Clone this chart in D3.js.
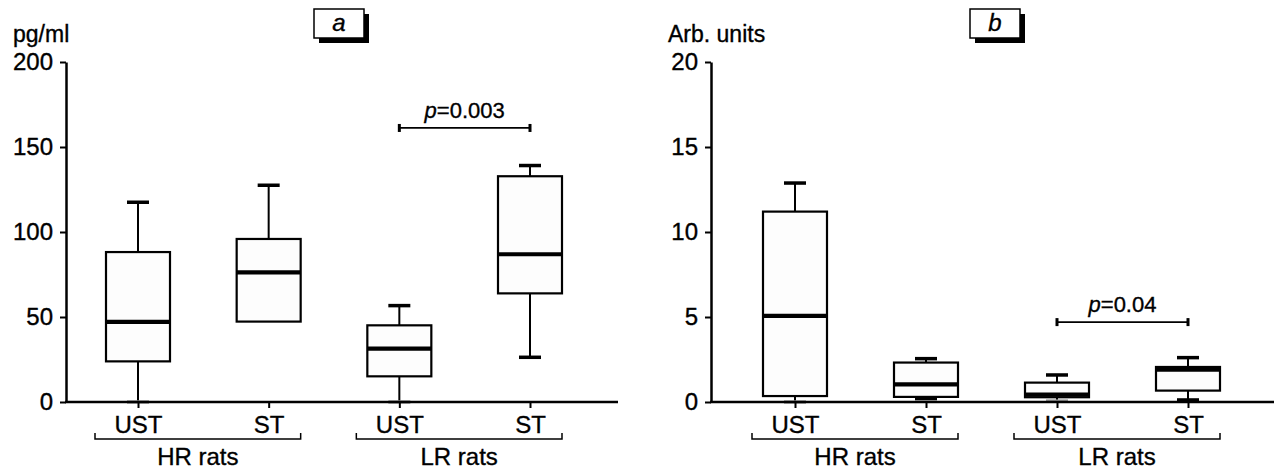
<!DOCTYPE html>
<html>
<head>
<meta charset="utf-8">
<title>Box plots a, b</title>
<script src="https://d3js.org/d3.v7.min.js"></script>
<style>
	body { margin: 0; background: #fff; }
	text { font-family: "Liberation Sans", Arial, Helvetica, sans-serif; fill: #000; stroke: #000; stroke-width: 0.35px; }
</style>
</head>
<body>
<svg width="1274" height="469"></svg>
<script>
// categories: group + condition
var groups = ["HR rats", "LR rats"];
var conditions = ["UST", "ST"];
var categories = ["HR-UST", "HR-ST", "LR-UST", "LR-ST"];

// panel a, pg/ml
var cytLow    = [0, 47.3, 0, 26.3];
var cytQ1     = [23.9, 47.3, 15.1, 63.9];
var cytMedian = [47.1, 76.3, 31.4, 86.9];
var cytQ3     = [88.2, 95.9, 45.1, 132.8];
var cytHigh   = [117.5, 127.5, 56.7, 139.1];
var cytTicks  = [0, 50, 100, 150, 200];

// panel b, arb. units
var arbLow    = [0, 0.2, 0.05, 0.12];
var arbQ1     = [0.35, 0.3, 0.28, 0.67];
var arbMedian = [5.07, 1.04, 0.43, 1.9];
var arbQ3     = [11.2, 2.32, 1.14, 2.06];
var arbHigh   = [12.88, 2.55, 1.59, 2.61];
var arbTicks  = [0, 5, 10, 15, 20];

// significance brackets: [from, to, height, p]
var cytSig = ["LR-UST", "LR-ST", 161.2, "0.003"];
var arbSig = ["LR-UST", "LR-ST", 4.7, "0.04"];

var svg = d3.select("svg");

function drawPanel(p) {
	var g = svg.append("g");
	var x = d3.scalePoint().domain(categories).range(p.xRange);
	var y = d3.scaleLinear().domain([0, p.ticks[p.ticks.length - 1]]).range([402, 62]);

	var rows = categories.map(function(c, i) {
		return {key: c, low: p.low[i], q1: p.q1[i], med: p.med[i], q3: p.q3[i], high: p.high[i]};
	});

	// whiskers
	g.selectAll(".wh").data(rows).enter().append("line")
		.attr("x1", function(d) { return x(d.key); })
		.attr("x2", function(d) { return x(d.key); })
		.attr("y1", function(d) { return y(d.high); })
		.attr("y2", function(d) { return y(d.low); })
		.attr("stroke", "#000").attr("stroke-width", 2);
	var caps = [];
	rows.forEach(function(d) {
		caps.push({key: d.key, v: d.high});
		if (d.low < d.q1) caps.push({key: d.key, v: d.low, lowcap: true});
	});
	g.selectAll(".cap").data(caps).enter().append("line")
		.attr("x1", function(d) { return x(d.key) - 11; })
		.attr("x2", function(d) { return x(d.key) + 11; })
		.attr("y1", function(d) { return y(d.v); })
		.attr("y2", function(d) { return y(d.v); })
		.attr("stroke", function(d) { return d.lowcap && d.v <= p.ticks[1] * 0.02 ? "#999" : "#000"; })
		.attr("stroke-width", 3.5);

	// boxes
	g.selectAll(".box").data(rows).enter().append("rect")
		.attr("x", function(d) { return x(d.key) - 32; })
		.attr("width", 64)
		.attr("y", function(d) { return y(d.q3); })
		.attr("height", function(d) { return y(d.q1) - y(d.q3); })
		.attr("fill", "#fdfdfd").attr("stroke", "#000").attr("stroke-width", 2.2);
	g.selectAll(".med").data(rows).enter().append("line")
		.attr("x1", function(d) { return x(d.key) - 32; })
		.attr("x2", function(d) { return x(d.key) + 32; })
		.attr("y1", function(d) { return y(d.med); })
		.attr("y2", function(d) { return y(d.med); })
		.attr("stroke", "#000").attr("stroke-width", 4.2);

	// y axis
	var yAxis = d3.axisLeft(y).tickValues(p.ticks).tickSize(6).tickSizeOuter(0).tickPadding(7);
	var ya = g.append("g").attr("transform", "translate(" + p.axisX + ",0)").call(yAxis);
	ya.attr("font-size", 24).attr("font-family", null);
	ya.select(".domain").attr("stroke-width", 2.5);
	ya.selectAll(".tick line").attr("stroke-width", 2);

	// x axis
	g.append("line")
		.attr("x1", p.axisX - 1).attr("x2", p.axisEnd)
		.attr("y1", 402).attr("y2", 402)
		.attr("stroke", "#000").attr("stroke-width", 2.5);
	var xAxis = d3.axisBottom(x).tickSize(6).tickPadding(8)
		.tickFormat(function(d) { return d.split("-")[1]; });
	var xa = g.append("g").attr("transform", "translate(0,402)").call(xAxis);
	xa.attr("font-size", 24).attr("font-family", null);
	xa.select(".domain").remove();
	xa.selectAll(".tick line").attr("stroke-width", 2);

	// group brackets
	groups.forEach(function(gr, i) {
		var a = x(categories[i * 2]) - 43, b = x(categories[i * 2 + 1]) + 32;
		g.append("path")
			.attr("d", "M" + a + ",433V439H" + b + "V433")
			.attr("fill", "none").attr("stroke", "#000").attr("stroke-width", 1.5);
		g.append("text").attr("x", (a + b) / 2).attr("y", 465)
			.attr("text-anchor", "middle").attr("font-size", 24).text(gr);
	});

	// significance bracket
	var s = p.sig, sx1 = x(s[0]), sx2 = x(s[1]), sy = y(s[2]);
	g.append("line").attr("x1", sx1).attr("x2", sx2).attr("y1", sy).attr("y2", sy)
		.attr("stroke", "#000").attr("stroke-width", 1.8);
	[sx1, sx2].forEach(function(sx) {
		g.append("line").attr("x1", sx).attr("x2", sx).attr("y1", sy - 4).attr("y2", sy + 4)
			.attr("stroke", "#000").attr("stroke-width", 3);
	});
	var st = g.append("text").attr("x", (sx1 + sx2) / 2).attr("y", sy - 10)
		.attr("text-anchor", "middle").attr("font-size", 22);
	st.append("tspan").attr("font-style", "italic").text("p");
	st.append("tspan").text("=" + s[3]);

	// unit label
	g.append("text").attr("x", p.unitX).attr("y", 42).attr("font-size", 23).text(p.unit);

	// panel letter box with shadow
	g.append("rect").attr("x", p.boxX + 5).attr("y", 14).attr("width", 50).attr("height", 29).attr("fill", "#000");
	g.append("rect").attr("x", p.boxX).attr("y", 9).attr("width", 50).attr("height", 29)
		.attr("fill", "#fff").attr("stroke", "#000").attr("stroke-width", 1.5);
	g.append("text").attr("x", p.boxX + 25).attr("y", 31).attr("text-anchor", "middle")
		.attr("font-size", 24).attr("font-style", "italic").text(p.letter);
}

drawPanel({
	low: cytLow, q1: cytQ1, med: cytMedian, q3: cytQ3, high: cytHigh, ticks: cytTicks,
	sig: cytSig, unit: "pg/ml", letter: "a",
	axisX: 66, axisEnd: 618, xRange: [138, 530], unitX: 13, boxX: 314
});
drawPanel({
	low: arbLow, q1: arbQ1, med: arbMedian, q3: arbQ3, high: arbHigh, ticks: arbTicks,
	sig: arbSig, unit: "Arb. units", letter: "b",
	axisX: 711, axisEnd: 1274, xRange: [795, 1188], unitX: 668, boxX: 970
});
</script>
</body>
</html>
